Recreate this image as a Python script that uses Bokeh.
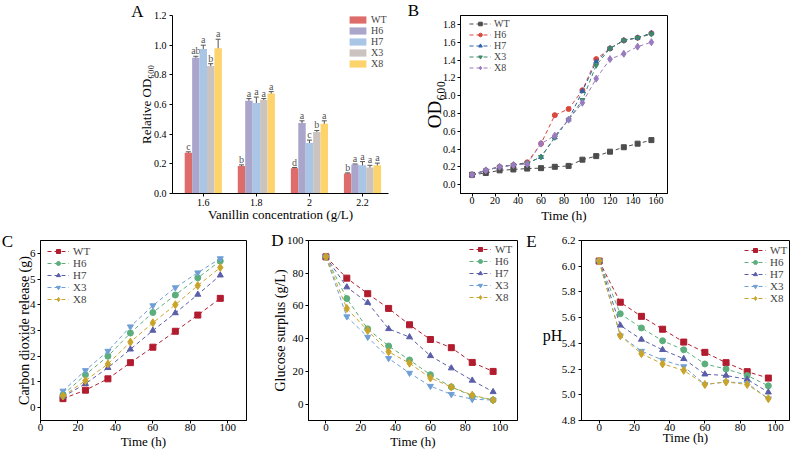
from bokeh.plotting import figure
from bokeh.models import (Range1d, FixedTicker, Label, Legend, LegendItem, ColumnDataSource,
                          Whisker, TeeHead, Spacer, PrintfTickFormatter)
from bokeh.layouts import row, column
from bokeh.transform import dodge
from bokeh.core.properties import value
from bokeh.embed import file_html
from bokeh.resources import INLINE

FONT = "Liberation Serif"

# ---------------- Panel A data ----------------
conc_labels = ["1.6", "1.8", "2", "2.2"]
strains = ["WT", "H6", "H7", "X3", "X8"]
a_WT = [0.275, 0.185, 0.170, 0.135]
a_H6 = [0.915, 0.625, 0.475, 0.195]
a_H7 = [0.975, 0.610, 0.340, 0.190]
a_X3 = [0.860, 0.630, 0.415, 0.175]
a_X8 = [0.980, 0.675, 0.470, 0.190]
e_WT = [0.006, 0.008, 0.005, 0.004]
e_H6 = [0.010, 0.015, 0.015, 0.004]
e_H7 = [0.025, 0.040, 0.020, 0.025]
e_X3 = [0.015, 0.010, 0.010, 0.015]
e_X8 = [0.060, 0.012, 0.020, 0.015]
l_WT = ["c", "b", "d", "b"]
l_H6 = ["ab", "a", "a", "a"]
l_H7 = ["a", "a", "c", "a"]
l_X3 = ["b", "a", "b", "a"]
l_X8 = ["a", "a", "a", "a"]
a_colors = ["#de6c6b", "#aaa5cb", "#a9c6e7", "#cbc3bf", "#fdd46c"]

# ---------------- Panel B data ----------------
b_time = [0, 12, 24, 36, 48, 60, 72, 84, 96, 108, 120, 132, 144, 156]
b_WT = [0.11, 0.13, 0.16, 0.17, 0.18, 0.185, 0.20, 0.21, 0.28, 0.32, 0.37, 0.42, 0.46, 0.50]
b_H6 = [0.11, 0.16, 0.20, 0.22, 0.25, 0.46, 0.78, 0.85, 1.06, 1.41, 1.53, 1.62, 1.65, 1.70]
b_H7 = [0.11, 0.16, 0.20, 0.22, 0.24, 0.31, 0.53, 0.73, 1.05, 1.38, 1.53, 1.62, 1.65, 1.70]
b_X3 = [0.11, 0.16, 0.20, 0.22, 0.24, 0.31, 0.53, 0.73, 0.95, 1.34, 1.53, 1.62, 1.65, 1.69]
b_X8 = [0.11, 0.16, 0.20, 0.22, 0.23, 0.46, 0.55, 0.73, 0.92, 1.19, 1.41, 1.47, 1.55, 1.60]
b_colors = ["#4d4d4d", "#d9473f", "#2f63a8", "#3d8a68", "#9a7bc0"]

# ---------------- Panel C data ----------------
c_time = [12, 24, 36, 48, 60, 72, 84, 96]
c_WT = [0.35, 0.68, 1.12, 1.75, 2.35, 2.97, 3.60, 4.25]
c_H6 = [0.50, 1.28, 2.00, 2.90, 3.70, 4.38, 5.05, 5.70]
c_H7 = [0.42, 0.93, 1.55, 2.27, 3.00, 3.68, 4.40, 5.15]
c_X3 = [0.65, 1.45, 2.20, 3.15, 3.97, 4.67, 5.25, 5.80]
c_X8 = [0.45, 1.05, 1.70, 2.55, 3.30, 4.00, 4.75, 5.45]

# ---------------- Panel D data ----------------
d_time = [0, 12, 24, 36, 48, 60, 72, 84, 96]
d_WT = [90, 77.0, 67.5, 58.5, 48.5, 39.5, 34.5, 25.5, 20.0]
d_H6 = [90, 64.5, 46.0, 35.5, 27.0, 18.0, 10.5, 5.0, 2.5]
d_H7 = [90, 71.5, 62.0, 46.0, 41.0, 29.5, 22.0, 14.5, 7.5]
d_X3 = [90, 53.5, 41.0, 28.0, 19.0, 11.0, 6.0, 3.0, 2.5]
d_X8 = [90, 58.5, 45.0, 32.0, 25.0, 16.0, 10.5, 5.5, 2.5]

# ---------------- Panel E data ----------------
e_time = [0, 12, 24, 36, 48, 60, 72, 84, 96]
ph_WT = [6.04, 5.72, 5.61, 5.51, 5.41, 5.33, 5.25, 5.18, 5.13]
ph_H6 = [6.04, 5.63, 5.52, 5.42, 5.35, 5.24, 5.20, 5.15, 5.07]
ph_H7 = [6.04, 5.54, 5.43, 5.35, 5.28, 5.16, 5.15, 5.12, 5.02]
ph_X3 = [6.04, 5.46, 5.34, 5.27, 5.22, 5.08, 5.10, 5.09, 4.97]
ph_X8 = [6.04, 5.46, 5.32, 5.24, 5.19, 5.08, 5.10, 5.08, 4.97]

cde_colors = ["#b11c2e", "#5caf7c", "#5a5ea8", "#6f9fd6", "#c9a42b"]
markers = ["square", "circle", "triangle", "inverted_triangle", "diamond"]
msizes = [6, 6, 6, 6, 8]


def style(p, tick_size="11px", label_size="13px"):
    p.grid.visible = False
    p.background_fill_color = "white"
    p.border_fill_color = "white"
    p.outline_line_color = "black"
    p.outline_line_width = 1
    for ax in p.axis:
        ax.major_label_text_font = FONT
        ax.major_label_text_font_size = tick_size
        ax.major_label_text_color = "black"
        ax.axis_label_text_font = FONT
        ax.axis_label_text_font_style = "normal"
        ax.axis_label_text_font_size = label_size
        ax.axis_label_text_color = "black"
        ax.major_tick_out = 3
        ax.major_tick_in = 0
        ax.minor_tick_out = 0
        ax.minor_tick_in = 0
        ax.major_label_standoff = 2
        ax.axis_line_color = "black"
        ax.major_tick_line_color = "black"


def side_text(p, side, text, cx, cy, size="17px"):
    # positioned in canvas pixels (from the canvas' top-left), held in a side panel
    p.add_layout(Label(x=cx, y=cy, x_units="canvas", y_units="canvas", text=text,
                       text_font=FONT, text_font_size=size, text_align="center",
                       text_baseline="middle", text_color="black"), side)


def make_legend(p, items, loc, spacing, gw, gh, lh, standoff, fsize="11px"):
    leg = Legend(items=items, location=loc, padding=0, margin=0, spacing=spacing,
                 glyph_width=gw, glyph_height=gh, label_height=lh, label_standoff=standoff,
                 label_text_font=FONT, label_text_font_size=fsize,
                 border_line_color=None, background_fill_alpha=0)
    p.add_layout(leg)


TOP_H = 230
BOT_H = 225

# ================= Panel A =================
pA = figure(width=300, height=TOP_H, x_range=Range1d(-0.58, 3.49), y_range=Range1d(0, 1.2),
            output_backend="svg", toolbar_location=None,
            min_border_left=52, min_border_right=32, min_border_top=8, min_border_bottom=36)
style(pA, tick_size="10px", label_size="13px")
pA.outline_line_color = None
pA.xaxis.ticker = FixedTicker(ticks=[0, 1, 2, 3], minor_ticks=[])
pA.xaxis.major_label_overrides = {i: s for i, s in enumerate(conc_labels)}
pA.yaxis.ticker = FixedTicker(ticks=[0, 0.2, 0.4, 0.6, 0.8, 1.0, 1.2], minor_ticks=[])
pA.yaxis.formatter = PrintfTickFormatter(format="%.1f")
pA.yaxis.major_label_standoff = 3
pA.yaxis.axis_label = "Relative OD\u2086\u2080\u2080"
pA.xaxis.axis_label = "Vanillin concentration (g/L)"
pA.yaxis.axis_label_standoff = -3
pA.xaxis.axis_label_standoff = -2

a_vals = [a_WT, a_H6, a_H7, a_X3, a_X8]
a_errs = [e_WT, e_H6, e_H7, e_X3, e_X8]
a_labs = [l_WT, l_H6, l_H7, l_X3, l_X8]
offsets = [-0.28, -0.14, 0.0, 0.14, 0.28]
a_items = []
for k in range(5):
    src = ColumnDataSource(dict(x=list(range(len(conc_labels))), v=a_vals[k],
                                up=[v + e for v, e in zip(a_vals[k], a_errs[k])],
                                lo=[v - e for v, e in zip(a_vals[k], a_errs[k])],
                                lab=a_labs[k]))
    r = pA.vbar(x=dodge("x", offsets[k], range=pA.x_range), top="v", width=0.14, source=src,
                fill_color=a_colors[k], line_color=None)
    a_items.append(LegendItem(label=strains[k], renderers=[r]))
    w = Whisker(base=dodge("x", offsets[k], range=pA.x_range), upper="up", lower="lo", source=src,
                line_color="#555555", line_width=1,
                upper_head=TeeHead(size=5, line_color="#555555", line_width=1),
                lower_head=TeeHead(size=5, line_color="#555555", line_width=1))
    pA.add_layout(w)
    pA.text(x=dodge("x", offsets[k], range=pA.x_range), y="up", text="lab", source=src,
            text_font=value(FONT), text_font_size="10px", text_align="center",
            text_baseline="bottom", text_color="#555555")
make_legend(pA, a_items, (175, 124), -1, 21, 9, 9, 3, fsize="10px")
side_text(pA, "left", "A", 17, 11)
side_text(pA, "right", "B", 293, 10)

# ================= Panel B =================
pB = figure(width=370, height=TOP_H, x_range=Range1d(-10, 170), y_range=Range1d(-0.1, 1.9),
            output_backend="svg", toolbar_location=None,
            min_border_left=34, min_border_right=123, min_border_top=15, min_border_bottom=37)
style(pB, tick_size="10px", label_size="13px")
pB.xaxis.ticker = FixedTicker(ticks=list(range(0, 161, 20)), minor_ticks=[])
pB.yaxis.ticker = FixedTicker(ticks=[0, 0.2, 0.4, 0.6, 0.8, 1.0, 1.2, 1.4, 1.6, 1.8], minor_ticks=[])
pB.yaxis.formatter = PrintfTickFormatter(format="%.1f")
pB.xaxis.axis_label = "Time (h)"
pB.yaxis.axis_label = "OD\u2086\u2080\u2080"
pB.yaxis.axis_label_text_font_size = "19px"
pB.yaxis.axis_label_standoff = -5
pB.xaxis.major_label_standoff = 0
pB.xaxis.axis_label_standoff = 1
b_series = [b_WT, b_H6, b_H7, b_X3, b_X8]
b_items = []
for k in range(5):
    rl = pB.line(b_time, b_series[k], line_color=b_colors[k], line_dash="4 3", line_width=1)
    rs = pB.scatter(b_time, b_series[k], marker=markers[k], size=msizes[k] - 1,
                    fill_color=b_colors[k], line_color=b_colors[k])
    b_items.append(LegendItem(label=strains[k], renderers=[rl, rs]))
make_legend(pB, b_items, (9, 120), -2, 22, 9, 9, 3, fsize="10px")


def line_panel(p, t, series, colors, loc):
    items = []
    for k in range(5):
        rl = p.line(t, series[k], line_color=colors[k], line_dash="4 3", line_width=1)
        rs = p.scatter(t, series[k], marker=markers[k], size=msizes[k],
                       fill_color=colors[k], line_color=colors[k])
        items.append(LegendItem(label=strains[k], renderers=[rl, rs]))
    make_legend(p, items, loc, 0, 22, 10, 10, 4, fsize="11px")


# ================= Panel C =================
pC = figure(width=250, height=BOT_H, x_range=Range1d(0, 110), y_range=Range1d(-0.5, 6.5),
            output_backend="svg", toolbar_location=None,
            min_border_left=40, min_border_right=4, min_border_top=10, min_border_bottom=35)
style(pC)
pC.xaxis.ticker = FixedTicker(ticks=list(range(0, 101, 20)), minor_ticks=[])
pC.yaxis.ticker = FixedTicker(ticks=list(range(0, 7)), minor_ticks=[])
pC.xaxis.axis_label = "Time (h)"
pC.yaxis.axis_label = "Carbon dioxide release (g)"
pC.yaxis.axis_label_text_font_size = "14px"
pC.xaxis.major_label_standoff = 0
pC.yaxis.axis_label_standoff = -5
pC.xaxis.axis_label_standoff = 0
line_panel(pC, c_time, [c_WT, c_H6, c_H7, c_X3, c_X8], cde_colors, (7, 115))
side_text(pC, "left", "C", 7, 11)

# ================= Panel D =================
pD = figure(width=288, height=BOT_H, x_range=Range1d(-10, 110), y_range=Range1d(-10, 100),
            output_backend="svg", toolbar_location=None,
            min_border_left=58, min_border_right=21, min_border_top=10, min_border_bottom=32)
style(pD)
pD.xaxis.ticker = FixedTicker(ticks=list(range(0, 101, 20)), minor_ticks=[])
pD.yaxis.ticker = FixedTicker(ticks=list(range(0, 101, 20)), minor_ticks=[])
pD.xaxis.axis_label = "Time (h)"
pD.yaxis.axis_label = "Glucose surplus (g/L)"
pD.yaxis.axis_label_text_font_size = "14px"
pD.xaxis.major_label_standoff = 0
pD.yaxis.axis_label_standoff = -4
pD.xaxis.axis_label_standoff = 0
line_panel(pD, d_time, [d_WT, d_H6, d_H7, d_X3, d_X8], cde_colors, (161, 117))
side_text(pD, "left", "D", 27, 10)
side_text(pD, "right", "E", 281, 11)

# ================= Panel E =================
pE = figure(width=252, height=BOT_H, x_range=Range1d(-10, 108), y_range=Range1d(4.8, 6.2),
            output_backend="svg", toolbar_location=None,
            min_border_left=40, min_border_right=1, min_border_top=10, min_border_bottom=30)
style(pE)
pE.xaxis.ticker = FixedTicker(ticks=list(range(0, 101, 20)), minor_ticks=[])
pE.yaxis.ticker = FixedTicker(ticks=[4.8, 5.0, 5.2, 5.4, 5.6, 5.8, 6.0, 6.2], minor_ticks=[])
pE.yaxis.formatter = PrintfTickFormatter(format="%.1f")
pE.yaxis.major_label_standoff = 3
pE.xaxis.axis_label = "Time (h)"
pE.xaxis.major_label_standoff = 0
pE.xaxis.axis_label_standoff = -4
line_panel(pE, e_time, [ph_WT, ph_H6, ph_H7, ph_X3, ph_X8], cde_colors, (163, 116))
side_text(pE, "left", "pH", 14, 105, size="16px")

top = row(Spacer(width=120, height=TOP_H), pA, pB)
bottom = row(pC, pD, pE)
layout = column(top, bottom)

open("out.html", "w").write(file_html(layout, INLINE))
